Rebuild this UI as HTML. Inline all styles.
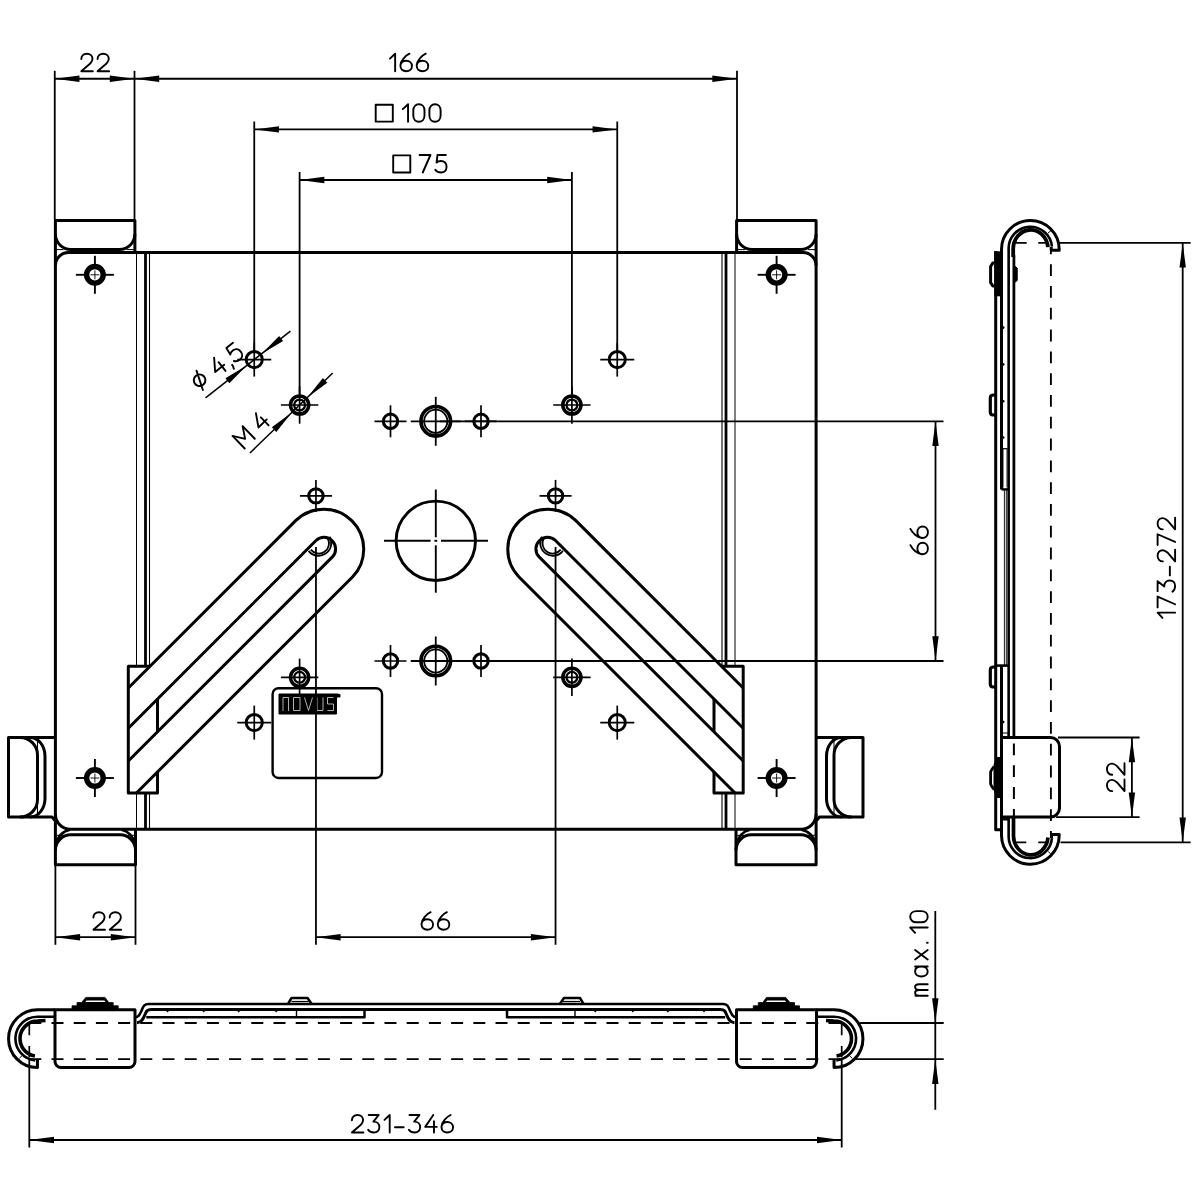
<!DOCTYPE html>
<html><head><meta charset="utf-8"><title>drawing</title>
<style>html,body{margin:0;padding:0;background:#fff;font-family:"Liberation Sans",sans-serif}svg{display:block}</style>
</head><body>
<svg width="1200" height="1200" viewBox="0 0 1200 1200" fill="none" stroke="#000" stroke-linecap="butt" stroke-linejoin="round">
<rect x="0" y="0" width="1200" height="1200" fill="#fff" stroke="none"/>
<path d="M68.4,252.6H803.1A13,13 0 0 1 816.1,265.6V814.3A15,15 0 0 1 801.1,829.3H70.4A15,15 0 0 1 55.4,814.3V265.6A13,13 0 0 1 68.4,252.6Z" stroke-width="3.0" />
<path d="M55.4,265.6V220.5H134.9V252.6" stroke-width="3.0" />
<path d="M55.4,234A15.5,15.5 0 0 0 70.9,249.5H119.4A15.5,15.5 0 0 0 134.9,234" stroke-width="3.0" />
<path d="M56.5,249.6L63.5,249.6" stroke-width="1.0" />
<path d="M126.5,249.6L134,249.6" stroke-width="1.0" />
<path d="M55.4,814.3V864.8H135.5V829.3" stroke-width="3.0" />
<path d="M55.4,850.3A15.5,15.5 0 0 1 70.9,834.8H120A15.5,15.5 0 0 1 135.5,850.3" stroke-width="3.0" />
<path d="M56.5,843A16.5,16.5 0 0 1 70,829.8" stroke-width="2.6" />
<path d="M134.5,843A16.5,16.5 0 0 0 121.5,829.8" stroke-width="2.6" />
<path d="M56.5,835.3L64,835.3" stroke-width="1.0" />
<path d="M127.5,835.3L134.5,835.3" stroke-width="1.0" />
<path d="M55.4,737.5H8.5V817H52L55,820.5" stroke-width="3.0" />
<path d="M20,737.5A17.5,17.5 0 0 1 37.5,755V799.5A17.5,17.5 0 0 1 20,817" stroke-width="3.0" />
<path d="M30,737.5A15,18.5 0 0 1 45,756V798.5A15,18.5 0 0 1 30,817" stroke-width="3.0" />
<path d="M37.5,738L37.5,816.5" stroke-width="1.0" />
<path d="M136.5,252.6L136.5,666.3" stroke-width="1.0" />
<path d="M136.5,793L136.5,829.3" stroke-width="1.0" />
<path d="M145.5,252.6L145.5,666.3" stroke-width="2.8" />
<path d="M145.5,793L145.5,829.3" stroke-width="2.8" />
<path d="M149.5,252.6L149.5,666.3" stroke-width="1.1" />
<path d="M149.5,793L149.5,829.3" stroke-width="1.1" />
<path d="M128.3,688.03L295.92,520.42A40.0,40.0 0 0 1 352.48,576.98L136.47,793.0" stroke-width="3.0" />
<path d="M128.3,728.2L316,540.5A11.6,11.6 0 0 1 332.4,556.9L128.3,761" stroke-width="3.0" />
<path d="M310.77,549.6A10.2,10.2 0 0 0 327.64,538.22" stroke-width="1.8" />
<path d="M308.6,550.85A12.7,12.7 0 0 0 329.61,536.68" stroke-width="1.8" />
<path d="M150.03,666.3H128.3V793.0H157.5V771.97" stroke-width="3.0" />
<path d="M157.5,699L157.5,731.8" stroke-width="3.0" />
<circle cx="94.9" cy="274.8" r="8.3" stroke-width="5.4" />
<path d="M75.9,274.8L85.9,274.8" stroke-width="1.9" />
<path d="M103.9,274.8L113.9,274.8" stroke-width="1.9" />
<path d="M94.9,255.8L94.9,265.8" stroke-width="1.9" />
<path d="M94.9,283.8L94.9,293.8" stroke-width="1.9" />
<path d="M90.4,274.8L99.4,274.8" stroke-width="0.9" />
<path d="M94.9,270.3L94.9,279.3" stroke-width="0.9" />
<circle cx="94.9" cy="778" r="8.3" stroke-width="5.4" />
<path d="M75.9,778L85.9,778" stroke-width="1.9" />
<path d="M103.9,778L113.9,778" stroke-width="1.9" />
<path d="M94.9,759L94.9,769" stroke-width="1.9" />
<path d="M94.9,787L94.9,797" stroke-width="1.9" />
<path d="M90.4,778L99.4,778" stroke-width="0.9" />
<path d="M94.9,773.5L94.9,782.5" stroke-width="0.9" />
<circle cx="254.25" cy="359.6" r="8.1" stroke-width="2.9" />
<path d="M237.25,359.6L271.25,359.6" stroke-width="1.7" />
<path d="M254.25,342.6L254.25,376.6" stroke-width="1.7" />
<circle cx="254.25" cy="722.6" r="8.1" stroke-width="2.9" />
<path d="M237.25,722.6L271.25,722.6" stroke-width="1.7" />
<path d="M254.25,705.6L254.25,739.6" stroke-width="1.7" />
<circle cx="299.6" cy="405" r="9.1" stroke-width="3.5" />
<circle cx="299.6" cy="405" r="5.4" stroke-width="2.3" />
<path d="M280.9,405L318.3,405" stroke-width="1.7" />
<path d="M299.6,386.3L299.6,423.7" stroke-width="1.7" />
<circle cx="299.6" cy="677.3" r="9.1" stroke-width="3.5" />
<circle cx="299.6" cy="677.3" r="5.4" stroke-width="2.3" />
<path d="M280.9,677.3L318.3,677.3" stroke-width="1.7" />
<path d="M299.6,658.6L299.6,696" stroke-width="1.7" />
<circle cx="390.5" cy="421.3" r="7.2" stroke-width="3.0" />
<path d="M374.5,421.3L406.5,421.3" stroke-width="1.7" />
<path d="M390.5,405.3L390.5,437.3" stroke-width="1.7" />
<circle cx="390.5" cy="661" r="7.2" stroke-width="3.0" />
<path d="M374.5,661L406.5,661" stroke-width="1.7" />
<path d="M390.5,645L390.5,677" stroke-width="1.7" />
<circle cx="315.95" cy="495.9" r="7.2" stroke-width="3.0" />
<path d="M299.95,495.9L331.95,495.9" stroke-width="1.7" />
<path d="M315.95,479.9L315.95,511.9" stroke-width="1.7" />
<path d="M816.1,265.6V220.5H736.6V252.6" stroke-width="3.0" />
<path d="M816.1,234A15.5,15.5 0 0 1 800.6,249.5H752.1A15.5,15.5 0 0 1 736.6,234" stroke-width="3.0" />
<path d="M815,249.6L808,249.6" stroke-width="1.0" />
<path d="M745,249.6L737.5,249.6" stroke-width="1.0" />
<path d="M816.1,814.3V864.8H736V829.3" stroke-width="3.0" />
<path d="M816.1,850.3A15.5,15.5 0 0 0 800.6,834.8H751.5A15.5,15.5 0 0 0 736,850.3" stroke-width="3.0" />
<path d="M815,843A16.5,16.5 0 0 0 801.5,829.8" stroke-width="2.6" />
<path d="M737,843A16.5,16.5 0 0 1 750,829.8" stroke-width="2.6" />
<path d="M815,835.3L807.5,835.3" stroke-width="1.0" />
<path d="M744,835.3L737,835.3" stroke-width="1.0" />
<path d="M816.1,737.5H863V817H819.5L816.5,820.5" stroke-width="3.0" />
<path d="M851.5,737.5A17.5,17.5 0 0 0 834,755V799.5A17.5,17.5 0 0 0 851.5,817" stroke-width="3.0" />
<path d="M841.5,737.5A15,18.5 0 0 0 826.5,756V798.5A15,18.5 0 0 0 841.5,817" stroke-width="3.0" />
<path d="M834,738L834,816.5" stroke-width="1.0" />
<path d="M735,252.6L735,666.3" stroke-width="1.0" />
<path d="M735,793L735,829.3" stroke-width="1.0" />
<path d="M726,252.6L726,666.3" stroke-width="2.8" />
<path d="M726,793L726,829.3" stroke-width="2.8" />
<path d="M722,252.6L722,666.3" stroke-width="1.1" />
<path d="M722,793L722,829.3" stroke-width="1.1" />
<path d="M743.2,688.03L575.58,520.42A40.0,40.0 0 0 0 519.02,576.98L735.03,793.0" stroke-width="3.0" />
<path d="M743.2,728.2L555.5,540.5A11.6,11.6 0 0 0 539.1,556.9L743.2,761" stroke-width="3.0" />
<path d="M560.73,549.6A10.2,10.2 0 0 1 543.86,538.22" stroke-width="1.8" />
<path d="M562.9,550.85A12.7,12.7 0 0 1 541.89,536.68" stroke-width="1.8" />
<path d="M721.47,666.3H743.2V793.0H714V771.97" stroke-width="3.0" />
<path d="M714,699L714,731.8" stroke-width="3.0" />
<circle cx="776.6" cy="274.8" r="8.3" stroke-width="5.4" />
<path d="M757.6,274.8L767.6,274.8" stroke-width="1.9" />
<path d="M785.6,274.8L795.6,274.8" stroke-width="1.9" />
<path d="M776.6,255.8L776.6,265.8" stroke-width="1.9" />
<path d="M776.6,283.8L776.6,293.8" stroke-width="1.9" />
<path d="M772.1,274.8L781.1,274.8" stroke-width="0.9" />
<path d="M776.6,270.3L776.6,279.3" stroke-width="0.9" />
<circle cx="776.6" cy="778" r="8.3" stroke-width="5.4" />
<path d="M757.6,778L767.6,778" stroke-width="1.9" />
<path d="M785.6,778L795.6,778" stroke-width="1.9" />
<path d="M776.6,759L776.6,769" stroke-width="1.9" />
<path d="M776.6,787L776.6,797" stroke-width="1.9" />
<path d="M772.1,778L781.1,778" stroke-width="0.9" />
<path d="M776.6,773.5L776.6,782.5" stroke-width="0.9" />
<circle cx="617.25" cy="359.6" r="8.1" stroke-width="2.9" />
<path d="M600.25,359.6L634.25,359.6" stroke-width="1.7" />
<path d="M617.25,342.6L617.25,376.6" stroke-width="1.7" />
<circle cx="617.25" cy="722.6" r="8.1" stroke-width="2.9" />
<path d="M600.25,722.6L634.25,722.6" stroke-width="1.7" />
<path d="M617.25,705.6L617.25,739.6" stroke-width="1.7" />
<circle cx="571.9" cy="405" r="9.1" stroke-width="3.5" />
<circle cx="571.9" cy="405" r="5.4" stroke-width="2.3" />
<path d="M553.2,405L590.6,405" stroke-width="1.7" />
<path d="M571.9,386.3L571.9,423.7" stroke-width="1.7" />
<circle cx="571.9" cy="677.3" r="9.1" stroke-width="3.5" />
<circle cx="571.9" cy="677.3" r="5.4" stroke-width="2.3" />
<path d="M553.2,677.3L590.6,677.3" stroke-width="1.7" />
<path d="M571.9,658.6L571.9,696" stroke-width="1.7" />
<circle cx="481" cy="421.3" r="7.2" stroke-width="3.0" />
<path d="M465,421.3L497,421.3" stroke-width="1.7" />
<path d="M481,405.3L481,437.3" stroke-width="1.7" />
<circle cx="481" cy="661" r="7.2" stroke-width="3.0" />
<path d="M465,661L497,661" stroke-width="1.7" />
<path d="M481,645L481,677" stroke-width="1.7" />
<circle cx="555.55" cy="495.9" r="7.2" stroke-width="3.0" />
<path d="M539.55,495.9L571.55,495.9" stroke-width="1.7" />
<path d="M555.55,479.9L555.55,511.9" stroke-width="1.7" />
<circle cx="435.75" cy="421.3" r="14.8" stroke-width="3.6" />
<circle cx="435.75" cy="421.3" r="11.6" stroke-width="1.8" />
<path d="M410.75,421.3L460.75,421.3" stroke-width="1.8" />
<path d="M435.75,396.8L435.75,445.8" stroke-width="1.8" />
<circle cx="435.75" cy="661" r="14.8" stroke-width="3.6" />
<circle cx="435.75" cy="661" r="11.6" stroke-width="1.8" />
<path d="M410.75,661L460.75,661" stroke-width="1.8" />
<path d="M435.75,636.5L435.75,685.5" stroke-width="1.8" />
<circle cx="435.8" cy="540.8" r="39.7" stroke-width="2.9" />
<path d="M384,540.8L430.6,540.8" stroke-width="1.9" />
<path d="M441,540.8L488,540.8" stroke-width="1.9" />
<path d="M435.8,489.5L435.8,537.3" stroke-width="1.9" />
<path d="M435.8,545.3L435.8,592.7" stroke-width="1.9" />
<path d="M434.4,540.8L437.2,540.8" stroke-width="1.9" />
<path d="M278.6,688.2H376A6,6 0 0 1 382,694.2V772A6,6 0 0 1 376,778H278.6A6,6 0 0 1 272.6,772V694.2A6,6 0 0 1 278.6,688.2Z" stroke-width="2.4" />
<path d="M279,694H337L340,694.5V697H336.5V714H279Z" fill="#000" stroke="#000" stroke-width="1"/>
<g stroke="#ddd" stroke-width="0.8" fill="none" stroke-linecap="butt">
<path d="M283,711V697.5H288.5V711"/>
<path d="M293.5,697.5H300V710.5H293.5Z"/>
<path d="M304.5,697.5L308.5,710.5L312.5,697.5"/>
<path d="M317,697.5V710.5H323V697.5"/>
<path d="M333.5,697.5H327.5V704H333.5V710.5H327.5"/>
</g>
<path d="M54.75,70.8L54.75,220" stroke-width="1.8" />
<path d="M134.5,70.8L134.5,220" stroke-width="1.8" />
<path d="M737,70.8L737,220" stroke-width="1.8" />
<path d="M54.75,78.75L737,78.75" stroke-width="1.8" />
<path d="M54.75,78.75L79.45,81.95L79.45,75.55Z" fill="#000" stroke="none"/>
<path d="M134.5,78.75L109.8,75.55L109.8,81.95Z" fill="#000" stroke="none"/>
<path d="M134.5,78.75L159.2,81.95L159.2,75.55Z" fill="#000" stroke="none"/>
<path d="M737,78.75L712.3,75.55L712.3,81.95Z" fill="#000" stroke="none"/>
<g transform="translate(81.3,71.2) rotate(0) scale(0.1750) translate(0,-100)" stroke-width="10.86" stroke-linecap="round" stroke-linejoin="round">
<path d="M0,30C0,12 13,0 32,0C51,0 64,12 64,29C64,40 59,47 51,56L0,100L66,100" transform="translate(0,0)"/>
<path d="M0,30C0,12 13,0 32,0C51,0 64,12 64,29C64,40 59,47 51,56L0,100L66,100" transform="translate(93,0)"/>
</g>
<g transform="translate(389.9,71.2) rotate(0) scale(0.1750) translate(0,-100)" stroke-width="10.86" stroke-linecap="round" stroke-linejoin="round">
<path d="M0,28L30,0L30,100" transform="translate(0,0)"/>
<path d="M52,0C32,10 0,38 0,68C0,88 14,100 33,100C52,100 66,88 66,70C66,52 52,40 33,40C16,40 3,50 0,66" transform="translate(60,0)"/>
<path d="M52,0C32,10 0,38 0,68C0,88 14,100 33,100C52,100 66,88 66,70C66,52 52,40 33,40C16,40 3,50 0,66" transform="translate(153,0)"/>
</g>
<path d="M254.25,121.5L254.25,352" stroke-width="1.8" />
<path d="M617.25,121.5L617.25,352" stroke-width="1.8" />
<path d="M254.25,129.4L617.25,129.4" stroke-width="1.8" />
<path d="M254.25,129.4L278.95,132.6L278.95,126.2Z" fill="#000" stroke="none"/>
<path d="M617.25,129.4L592.55,126.2L592.55,132.6Z" fill="#000" stroke="none"/>
<path d="M375.7,104.7H392.8V121.6H375.7Z" stroke-width="1.9" />
<g transform="translate(402.8,121.7) rotate(0) scale(0.1750) translate(0,-100)" stroke-width="10.86" stroke-linecap="round" stroke-linejoin="round">
<path d="M0,28L30,0L30,100" transform="translate(0,0)"/>
<path d="M32,0C14,0 0,14 0,36L0,64C0,86 14,100 32,100C50,100 64,86 64,64L64,36C64,14 50,0 32,0Z" transform="translate(60,0)"/>
<path d="M32,0C14,0 0,14 0,36L0,64C0,86 14,100 32,100C50,100 64,86 64,64L64,36C64,14 50,0 32,0Z" transform="translate(152,0)"/>
</g>
<path d="M299.6,172L299.6,395" stroke-width="1.8" />
<path d="M571.9,172L571.9,395" stroke-width="1.8" />
<path d="M299.6,180L571.9,180" stroke-width="1.8" />
<path d="M299.6,180L324.3,183.2L324.3,176.8Z" fill="#000" stroke="none"/>
<path d="M571.9,180L547.2,176.8L547.2,183.2Z" fill="#000" stroke="none"/>
<path d="M393.2,155.4H410.3V172.5H393.2Z" stroke-width="1.9" />
<g transform="translate(419.6,172.5) rotate(0) scale(0.1750) translate(0,-100)" stroke-width="10.86" stroke-linecap="round" stroke-linejoin="round">
<path d="M0,0L62,0L18,100" transform="translate(0,0)"/>
<path d="M60,0L12,0L7,43C13,37 22,34 32,34C51,34 64,47 64,67C64,88 51,100 33,100C18,100 7,95 0,85" transform="translate(90,0)"/>
</g>
<path d="M205.53,397.94L290.4,331.15" stroke-width="1.5" />
<path d="M261.72,353.73L283.11,340.97L279.15,335.94Z" fill="#000" stroke="none"/>
<path d="M246.78,365.47L225.39,378.23L229.35,383.26Z" fill="#000" stroke="none"/>
<path d="M249.97,452.93L332.69,373.05" stroke-width="1.5" />
<path d="M307.37,397.5L327.36,382.64L322.91,378.04Z" fill="#000" stroke="none"/>
<path d="M291.83,412.5L271.84,427.36L276.29,431.96Z" fill="#000" stroke="none"/>
<g transform="translate(199.5,391.4) rotate(-38.2) scale(0.1750) translate(0,-100)" stroke-width="10.86" stroke-linecap="round" stroke-linejoin="round">
<path d="M40,17A33,33 0 1 0 40.01,17ZM60,-4L20,106" transform="translate(0,0)"/>
<path d="M46,0L0,68L66,68M50,36L50,100" transform="translate(139,0)"/>
<path d="M8,96L8,104L2,120" transform="translate(232,0)"/>
<path d="M60,0L12,0L7,43C13,37 22,34 32,34C51,34 64,47 64,67C64,88 51,100 33,100C18,100 7,95 0,85" transform="translate(262,0)"/>
</g>
<g transform="translate(244.7,448.5) rotate(-44) scale(0.1750) translate(0,-100)" stroke-width="10.86" stroke-linecap="round" stroke-linejoin="round">
<path d="M0,100L0,0L40,62L80,0L80,100" transform="translate(0,0)"/>
<path d="M46,0L0,68L66,68M50,36L50,100" transform="translate(140,0)"/>
</g>
<path d="M55.4,866L55.4,944.8" stroke-width="1.8" />
<path d="M135.5,866L135.5,944.8" stroke-width="1.8" />
<path d="M55.4,937.2L135.5,937.2" stroke-width="1.8" />
<path d="M55.4,937.2L80.1,940.4L80.1,934Z" fill="#000" stroke="none"/>
<path d="M135.5,937.2L110.8,934L110.8,940.4Z" fill="#000" stroke="none"/>
<g transform="translate(93.4,929.7) rotate(0) scale(0.1750) translate(0,-100)" stroke-width="10.86" stroke-linecap="round" stroke-linejoin="round">
<path d="M0,30C0,12 13,0 32,0C51,0 64,12 64,29C64,40 59,47 51,56L0,100L66,100" transform="translate(0,0)"/>
<path d="M0,30C0,12 13,0 32,0C51,0 64,12 64,29C64,40 59,47 51,56L0,100L66,100" transform="translate(93,0)"/>
</g>
<path d="M315.95,547L315.95,944.8" stroke-width="1.8" />
<path d="M555.55,547L555.55,944.8" stroke-width="1.8" />
<path d="M315.95,937.2L555.55,937.2" stroke-width="1.8" />
<path d="M315.95,937.2L340.65,940.4L340.65,934Z" fill="#000" stroke="none"/>
<path d="M555.55,937.2L530.85,934L530.85,940.4Z" fill="#000" stroke="none"/>
<g transform="translate(421.5,929.7) rotate(0) scale(0.1750) translate(0,-100)" stroke-width="10.86" stroke-linecap="round" stroke-linejoin="round">
<path d="M52,0C32,10 0,38 0,68C0,88 14,100 33,100C52,100 66,88 66,70C66,52 52,40 33,40C16,40 3,50 0,66" transform="translate(0,0)"/>
<path d="M52,0C32,10 0,38 0,68C0,88 14,100 33,100C52,100 66,88 66,70C66,52 52,40 33,40C16,40 3,50 0,66" transform="translate(93,0)"/>
</g>
<path d="M440,421.3L943.5,421.3" stroke-width="1.8" />
<path d="M440,661L943.5,661" stroke-width="1.8" />
<path d="M935.5,421.3L935.5,661" stroke-width="1.8" />
<path d="M935.5,421.3L932.3,446L938.7,446Z" fill="#000" stroke="none"/>
<path d="M935.5,661L938.7,636.3L932.3,636.3Z" fill="#000" stroke="none"/>
<g transform="translate(927.9,554.3) rotate(-90) scale(0.1750) translate(0,-100)" stroke-width="10.86" stroke-linecap="round" stroke-linejoin="round">
<path d="M52,0C32,10 0,38 0,68C0,88 14,100 33,100C52,100 66,88 66,70C66,52 52,40 33,40C16,40 3,50 0,66" transform="translate(0,0)"/>
<path d="M52,0C32,10 0,38 0,68C0,88 14,100 33,100C52,100 66,88 66,70C66,52 52,40 33,40C16,40 3,50 0,66" transform="translate(93,0)"/>
</g>
<path d="M1001.5,489.4V249.35A28.85,28.85 0 0 1 1059.2,249.35V250.2H1051.2V247" stroke-width="3.0" />
<path d="M1008.65,737.4V249.35A21.7,21.7 0 0 1 1051.95,246.6" stroke-width="2.6" />
<path d="M1013.2,257V250A17.4,19.0 0 0 1 1047.9,247.2" stroke-width="3.8" />
<path d="M1013.9,255L1013.9,737.4" stroke-width="2.8" />
<path d="M1048,233L1051.7,230" stroke-width="1.0" />
<path d="M995.7,251V829.7H1001" stroke-width="3.0" />
<path d="M1001.5,489.4H1008" stroke-width="2.4" />
<path d="M1004.4,489.4L1004.4,665" stroke-width="0.9" />
<path d="M1006.3,489.4L1006.3,665" stroke-width="0.9" />
<path d="M995.7,665.6H1008" stroke-width="2.6" />
<path d="M1001.5,665.6V835.35A28.85,28.85 0 0 0 1059.2,835.35V834.6H1051.5V838" stroke-width="3.0" />
<path d="M1002.5,448.7H1007.5" stroke-width="1.2" />
<path d="M1003,448.7L1003,487.5" stroke-width="0.9" />
<path d="M1007,448.7L1007,487.5" stroke-width="0.9" />
<circle cx="1003.2" cy="327.6" r="1.3" fill="#000" stroke="none"/>
<circle cx="1003.2" cy="364.4" r="1.3" fill="#000" stroke="none"/>
<circle cx="1003.2" cy="401.3" r="1.3" fill="#000" stroke="none"/>
<circle cx="1003.2" cy="437.5" r="1.3" fill="#000" stroke="none"/>
<circle cx="1003.2" cy="722" r="1.3" fill="#000" stroke="none"/>
<path d="M1003,733H1008.5V736" stroke-width="1.2" />
<path d="M1001.5,819.3H1008" stroke-width="2.4" />
<path d="M994.3,251.3H1000.2V296.3H994.3Z" fill="#000" stroke="none"/>
<path d="M994.5,263H992.8L990.6,266.5V282.5L992.8,286H994.5" stroke-width="3.0" />
<path d="M1014.5,266L1017.2,268V280.5L1014.5,282.5Z" fill="#000" stroke="#000" stroke-width="1"/>
<path d="M995,395H993A3,3 0 0 0 990.3,398V412A3,3 0 0 0 993,415H995" stroke-width="3.2" />
<path d="M995,667H993A3,3 0 0 0 990.3,670V684A3,3 0 0 0 993,687H995" stroke-width="3.2" />
<path d="M996.5,757L1000.3,757V798H996.5L993.5,790V765Z" fill="#000" stroke="none"/>
<path d="M994,766.5L991.8,769.5L990.6,772V784L991.8,786.5L994,789.5" stroke-width="2.8" />
<path d="M1001.5,737.5H1050.5A9,9 0 0 1 1059.5,746.5V808A9,9 0 0 1 1050.5,817H1001.5" stroke-width="3.0" />
<path d="M1013.9,741L1013.9,817" stroke-width="2.0" stroke-dasharray="11.8 10.0" stroke-dashoffset="-2.5"/>
<path d="M1050.9,250.5L1050.9,834.7" stroke-width="1.9" stroke-dasharray="11.8 10.0" stroke-dashoffset="8.1"/>
<path d="M1015,242.9L1046.7,242.9" stroke-width="1.7" stroke-dasharray="11.7 11.6"/>
<path d="M1015.3,842.3L1047.3,842.3" stroke-width="1.7" stroke-dasharray="11.0 12.0"/>
<path d="M1008.65,817V835.35A21.7,21.7 0 0 0 1051.95,838.2" stroke-width="2.6" />
<path d="M1013.5,817V834.8A17.3,19.3 0 0 0 1048.0,837.5" stroke-width="3.7" />
<path d="M1048,851.3L1050.7,854" stroke-width="1.0" />
<path d="M1059.5,242.9L1190.6,242.9" stroke-width="1.8" />
<path d="M1060.5,842.3L1190.6,842.3" stroke-width="1.8" />
<path d="M1182.7,242.9L1182.7,842.3" stroke-width="1.8" />
<path d="M1182.7,242.9L1179.5,267.6L1185.9,267.6Z" fill="#000" stroke="none"/>
<path d="M1182.7,842.3L1185.9,817.6L1179.5,817.6Z" fill="#000" stroke="none"/>
<g transform="translate(1175.1,617.9) rotate(-90) scale(0.1750) translate(0,-100)" stroke-width="10.86" stroke-linecap="round" stroke-linejoin="round">
<path d="M0,28L30,0L30,100" transform="translate(0,0)"/>
<path d="M0,0L62,0L18,100" transform="translate(60,0)"/>
<path d="M3,0L60,0L30,38C50,38 64,50 64,69C64,88 51,100 33,100C18,100 7,95 0,85" transform="translate(150,0)"/>
<path d="M0,70L50,70" transform="translate(243,0)"/>
<path d="M0,30C0,12 13,0 32,0C51,0 64,12 64,29C64,40 59,47 51,56L0,100L66,100" transform="translate(323,0)"/>
<path d="M0,0L62,0L18,100" transform="translate(416,0)"/>
<path d="M0,30C0,12 13,0 32,0C51,0 64,12 64,29C64,40 59,47 51,56L0,100L66,100" transform="translate(506,0)"/>
</g>
<path d="M1058,737.5L1139.6,737.5" stroke-width="1.8" />
<path d="M1056,817.2L1139.6,817.2" stroke-width="1.8" />
<path d="M1131.9,737.5L1131.9,817.2" stroke-width="1.8" />
<path d="M1131.9,737.5L1128.7,762.2L1135.1,762.2Z" fill="#000" stroke="none"/>
<path d="M1131.9,817.2L1135.1,792.5L1128.7,792.5Z" fill="#000" stroke="none"/>
<g transform="translate(1124.5,791.1) rotate(-90) scale(0.1750) translate(0,-100)" stroke-width="10.86" stroke-linecap="round" stroke-linejoin="round">
<path d="M0,30C0,12 13,0 32,0C51,0 64,12 64,29C64,40 59,47 51,56L0,100L66,100" transform="translate(0,0)"/>
<path d="M0,30C0,12 13,0 32,0C51,0 64,12 64,29C64,40 59,47 51,56L0,100L66,100" transform="translate(93,0)"/>
</g>
<path d="M55,1009.7H37.45A28.95,28.95 0 0 0 37.45,1067.6V1059.3" stroke-width="3.0" />
<path d="M55,1016.75H37.45A21.9,21.9 0 0 0 35.25,1060.45" stroke-width="2.6" />
<path d="M45.5,1020.45L37.45,1021.05A17.6,17.6 0 0 0 34.95,1056.05" stroke-width="3.6" />
<path d="M19.3,1058.3L22,1055.7" stroke-width="1.0" />
<path d="M55,1009.7H135V1061.5A6,6 0 0 1 129,1067.5H61A6,6 0 0 1 55,1061.5Z" stroke-width="3.0" />
<path d="M72,1009.8V1005.8H77V1002.6H81.5L85.8,997.4H105L108.8,1002.6H113.2V1005.8H118.2V1009.8Z" fill="#000" stroke="#000" stroke-width="0.8"/>
<path d="M86.5,1000.6H104.3L105.4,1002H85.4Z" fill="#fff" stroke="none"/>
<path d="M135,1017.5C139.5,1017.5 140.5,1013 142,1009.5C143.5,1006 144.5,1004 148.5,1004H436" stroke-width="2.6" />
<path d="M137,1022.7C142,1022.7 143.5,1018 145,1014.5C146.5,1011 147.3,1009.5 151,1009.5H436" stroke-width="3.0" />
<path d="M146.3,1017.2H364.5V1009.5" stroke-width="2.5" />
<path d="M296.5,1009.6L296.5,1017" stroke-width="1.4" />
<path d="M165.9,1010.8H169.1L167.5,1012.6Z" fill="#000" stroke="none"/>
<path d="M202.1,1010.8H205.3L203.7,1012.6Z" fill="#000" stroke="none"/>
<path d="M237.1,1010.8H240.3L238.7,1012.6Z" fill="#000" stroke="none"/>
<path d="M274.6,1010.8H277.8L276.2,1012.6Z" fill="#000" stroke="none"/>
<path d="M288,1003.8L291.5,998H307.5L311.5,1003.8" stroke-width="2.5" />
<path d="M291.5,1001.5L308.5,1001.5" stroke-width="1.2" />
<path d="M816.5,1009.7H834.05A28.95,28.95 0 0 1 834.05,1067.6V1059.3" stroke-width="3.0" />
<path d="M816.5,1016.75H834.05A21.9,21.9 0 0 1 836.25,1060.45" stroke-width="2.6" />
<path d="M826,1020.45L834.05,1021.05A17.6,17.6 0 0 1 836.55,1056.05" stroke-width="3.6" />
<path d="M852.2,1058.3L849.5,1055.7" stroke-width="1.0" />
<path d="M816.5,1009.7H736.5V1061.5A6,6 0 0 0 742.5,1067.5H810.5A6,6 0 0 0 816.5,1061.5Z" stroke-width="3.0" />
<path d="M799.5,1009.8V1005.8H794.5V1002.6H790L785.7,997.4H766.5L762.7,1002.6H758.3V1005.8H753.3V1009.8Z" fill="#000" stroke="#000" stroke-width="0.8"/>
<path d="M785,1000.6H767.2L766.1,1002H786.1Z" fill="#fff" stroke="none"/>
<path d="M736.5,1017.5C732,1017.5 731,1013 729.5,1009.5C728,1006 727,1004 723,1004H436" stroke-width="2.6" />
<path d="M734.5,1022.7C729.5,1022.7 728,1018 726.5,1014.5C725,1011 724.2,1009.5 720.5,1009.5H436" stroke-width="3.0" />
<path d="M725.2,1017.2H507V1009.5" stroke-width="2.5" />
<path d="M575,1009.6L575,1017" stroke-width="1.4" />
<path d="M705.6,1010.8H702.4L704,1012.6Z" fill="#000" stroke="none"/>
<path d="M669.4,1010.8H666.2L667.8,1012.6Z" fill="#000" stroke="none"/>
<path d="M634.4,1010.8H631.2L632.8,1012.6Z" fill="#000" stroke="none"/>
<path d="M596.9,1010.8H593.7L595.3,1012.6Z" fill="#000" stroke="none"/>
<path d="M583.5,1003.8L580,998H564L560,1003.8" stroke-width="2.5" />
<path d="M580,1001.5L563,1001.5" stroke-width="1.2" />
<path d="M29.3,1023L841.7,1023" stroke-width="1.8" stroke-dasharray="12 10.2"/>
<path d="M29.3,1059.2L841.7,1059.2" stroke-width="1.8" stroke-dasharray="12 10.2"/>
<path d="M29.3,1024L29.3,1060" stroke-width="1.7" stroke-dasharray="11.3 10.7"/>
<path d="M841.7,1024L841.7,1060" stroke-width="1.7" stroke-dasharray="11.3 10.7"/>
<path d="M29.3,1060L29.3,1147.5" stroke-width="1.8" />
<path d="M841.7,1060L841.7,1147.5" stroke-width="1.8" />
<path d="M29.3,1140L841.7,1140" stroke-width="1.8" />
<path d="M29.3,1140L54,1143.2L54,1136.8Z" fill="#000" stroke="none"/>
<path d="M841.7,1140L817,1136.8L817,1143.2Z" fill="#000" stroke="none"/>
<g transform="translate(351.9,1132.5) rotate(0) scale(0.1750) translate(0,-100)" stroke-width="10.86" stroke-linecap="round" stroke-linejoin="round">
<path d="M0,30C0,12 13,0 32,0C51,0 64,12 64,29C64,40 59,47 51,56L0,100L66,100" transform="translate(0,0)"/>
<path d="M3,0L60,0L30,38C50,38 64,50 64,69C64,88 51,100 33,100C18,100 7,95 0,85" transform="translate(93,0)"/>
<path d="M0,28L30,0L30,100" transform="translate(186,0)"/>
<path d="M0,70L50,70" transform="translate(246,0)"/>
<path d="M3,0L60,0L30,38C50,38 64,50 64,69C64,88 51,100 33,100C18,100 7,95 0,85" transform="translate(326,0)"/>
<path d="M46,0L0,68L66,68M50,36L50,100" transform="translate(419,0)"/>
<path d="M52,0C32,10 0,38 0,68C0,88 14,100 33,100C52,100 66,88 66,70C66,52 52,40 33,40C16,40 3,50 0,66" transform="translate(512,0)"/>
</g>
<path d="M860,1023L943.7,1023" stroke-width="1.8" />
<path d="M855,1059.2L943.7,1059.2" stroke-width="1.8" />
<path d="M935.3,911L935.3,1109.8" stroke-width="1.8" />
<path d="M935.3,1023L938.5,998.3L932.1,998.3Z" fill="#000" stroke="none"/>
<path d="M935.3,1059.2L932.1,1083.9L938.5,1083.9Z" fill="#000" stroke="none"/>
<g transform="translate(927.7,995.8) rotate(-90) scale(0.1750) translate(0,-100)" stroke-width="10.86" stroke-linecap="round" stroke-linejoin="round">
<path d="M0,100L0,30M0,50C1,36 8,28 17,28C27,28 33,36 33,50L33,100M33,50C34,36 41,28 50,28C60,28 66,36 66,50L66,100" transform="translate(0,0)"/>
<path d="M57,28L57,100M57,64C57,42 46,28 29,28C12,28 0,42 0,64C0,86 12,100 29,100C46,100 57,86 57,64" transform="translate(110,0)"/>
<path d="M0,28L54,100M54,28L0,100" transform="translate(208,0)"/>
<path d="M8,96L8,100" transform="translate(295,0)"/>
<path d="M0,28L30,0L30,100" transform="translate(360,0)"/>
<path d="M32,0C14,0 0,14 0,36L0,64C0,86 14,100 32,100C50,100 64,86 64,64L64,36C64,14 50,0 32,0Z" transform="translate(420,0)"/>
</g>
</svg>
</body></html>
